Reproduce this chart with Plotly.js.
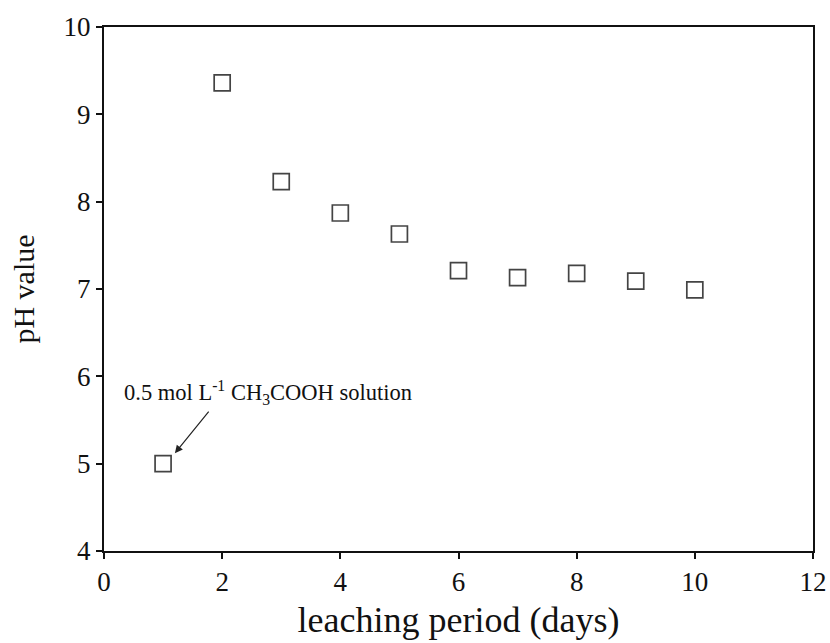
<!DOCTYPE html>
<html>
<head>
<meta charset="utf-8">
<script src="https://cdn.plot.ly/plotly-3.0.1.min.js"></script>
<style>html,body{margin:0;padding:0;background:#fff;}#chart{width:830px;height:643px;}</style>
</head>
<body>
<div id="chart"></div>
<script>
const days = [1, 2, 3, 4, 5, 6, 7, 8, 9, 10];
const phValues = [5.0, 9.36, 8.23, 7.87, 7.63, 7.21, 7.13, 7.18, 7.09, 6.99];
const xTitle = 'leaching period (days)';
const yTitle = 'pH value';
const noteText = '0.5 mol L<sup>-1</sup> CH<sub>3</sub>COOH solution';

const SERIF = 'Liberation Serif';

const trace = {
  x: days, y: phValues, type: 'scatter', mode: 'markers',
  marker: {symbol: 'square-open', size: 16, color: '#444', line: {width: 1.7, color: '#444'}},
  hoverinfo: 'skip'
};
const layout = {
  width: 830, height: 643,
  margin: {l: 104, r: 17, t: 27, b: 92},
  paper_bgcolor: '#fff', plot_bgcolor: '#fff',
  font: {family: SERIF, color: '#111', size: 27},
  showlegend: false,
  xaxis: {
    showgrid: false, zeroline: false, showline: true, linecolor: '#111', linewidth: 2,
    mirror: true, ticks: 'outside', ticklen: 6, tickwidth: 2, tickcolor: '#111',
    tickfont: {family: SERIF, size: 27, color: '#111'},
    range: [0, 12], dtick: 2, tick0: 0, tickmode: 'linear',
    title: {text: xTitle, font: {family: SERIF, size: 36, color: '#111'}, standoff: 10}
  },
  yaxis: {
    showgrid: false, zeroline: false, showline: true, linecolor: '#111', linewidth: 2,
    mirror: true, ticks: 'outside', ticklen: 6, tickwidth: 2, tickcolor: '#111',
    tickfont: {family: SERIF, size: 27, color: '#111'},
    range: [4, 10], dtick: 1, tick0: 4, tickmode: 'linear',
    title: {text: yTitle, font: {family: SERIF, size: 30, color: '#111'}, standoff: 20}
  },
  annotations: [
    {x: 0.3, y: 5.82, xref: 'x', yref: 'y', text: noteText, showarrow: false,
     xanchor: 'left', yanchor: 'middle',
     font: {family: SERIF, size: 22.5, color: '#111'}},
    {x: 1.2, y: 5.12, xref: 'x', yref: 'y', text: '', showarrow: true,
     ax: 35, ay: -43, arrowhead: 2, arrowsize: 1.3, arrowwidth: 1.2, arrowcolor: '#222', standoff: 0, startstandoff: 0}
  ]
};
Plotly.newPlot('chart', [trace], layout, {displayModeBar: false, staticPlot: true});
</script>
</body>
</html>
